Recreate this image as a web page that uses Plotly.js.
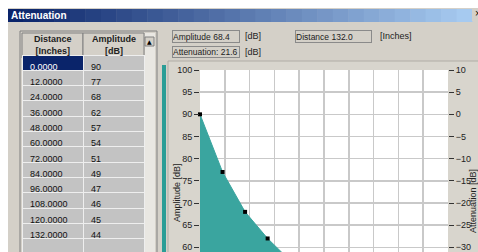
<!DOCTYPE html>
<html>
<head>
<meta charset="utf-8">
<script src="https://cdn.plot.ly/plotly-3.0.1.min.js"></script>
<style>
html,body{margin:0;padding:0;overflow:hidden;background:#fff;}
#chart{width:478px;height:340px;}
</style>
</head>
<body>
<div id="chart"></div>
<script>
// ---- data ----
const distance = [0, 12, 24, 36, 48, 60, 72, 84, 96, 108, 120, 132];
const amplitude = [90, 77, 68, 62, 57, 54, 51, 49, 47, 46, 45, 44];
const attenuation = [0, -13, -22, -28, -33, -36, -39, -41, -43, -44, -45, -46];
const headerLabels = ['Distance<br>[Inches]', 'Amplitude<br>[dB]'];
const amplitudeReadout = 'Amplitude 68.4';
const attenuationReadout = 'Attenuation: 21.6';
const distanceReadout = 'Distance 132.0';
const windowTitle = 'Attenuation';

// ---- layout helpers ----
const W = 478, H = 340;
const X = px => px / W;
const Y = py => 1 - py / H;
const FONT = 'Liberation Sans, Arial, sans-serif';
const GREY = '#d4d0c8';
const TEAL = '#3aa59f';

function rect(x0, y0, x1, y1, fill, line, lw) {
  return {type: 'rect', xref: 'paper', yref: 'paper', layer: 'below',
    x0: X(x0), x1: X(x1), y0: Y(y1), y1: Y(y0),
    fillcolor: fill, line: {color: line || 'rgba(0,0,0,0)', width: lw === undefined ? (line ? 1 : 0) : lw}};
}

const shapes = [];
shapes.push(rect(8, 8, 478, 260, GREY));
// title bar gradient
const c0 = [10, 36, 106], c1 = [166, 202, 240];
const N = 30, tx0 = 8, tx1 = 472;
for (let i = 0; i < N; i++) {
  const t = i / (N - 1);
  const c = c0.map((v, k) => Math.round(v + (c1[k] - v) * t));
  shapes.push(rect(tx0 + (tx1 - tx0) * i / N, 9, tx0 + (tx1 - tx0) * (i + 1) / N + 0.5, 22, 'rgb(' + c.join(',') + ')'));
}
shapes.push(rect(472, 9, 478, 21, GREY));
// table panel
shapes.push(rect(20, 31, 157, 262, GREY, '#808080'));
shapes.push(rect(145, 33, 155, 262, '#e9e7e2'));
shapes.push(rect(145, 37, 154, 46, GREY, '#808080'));
// table header cells
shapes.push(rect(22, 33, 83, 58, GREY, '#808080'));
shapes.push(rect(83, 33, 144, 58, GREY, '#808080'));
// teal slider bar
shapes.push(rect(162, 65, 166, 262, '#2a9d96'));
// chart panel
shapes.push(rect(168, 61, 482, 262, '#d8d5cd', '#b0ada6'));
// plot area
shapes.push(rect(200, 70, 448, 336, '#ffffff'));

function box(x0, y0, x1, y1, text) {
  return {xref: 'paper', yref: 'paper', x: X(x0), y: Y((y0 + y1) / 2), xanchor: 'left', yanchor: 'middle',
    text: text, showarrow: false, width: x1 - x0 - 2, height: y1 - y0 - 2, align: 'left',
    bgcolor: GREY, bordercolor: '#8a8a8a', borderwidth: 1, borderpad: 0,
    font: {family: FONT, size: 8.5, color: '#222'}};
}
function label(x, y, text, opts) {
  return Object.assign({xref: 'paper', yref: 'paper', x: X(x), y: Y(y), xanchor: 'left', yanchor: 'middle',
    text: text, showarrow: false, font: {family: FONT, size: 9, color: '#222'}}, opts || {});
}

const annotations = [
  label(9, 15.5, '<b>' + windowTitle + '</b>', {font: {family: FONT, size: 10, color: '#fff'}}),
  label(473, 14, '×', {font: {family: FONT, size: 10, color: '#000'}}),
  box(172, 30, 240, 43, amplitudeReadout),
  label(243, 36, '[dB]'),
  box(172, 46, 240, 58, attenuationReadout),
  label(243, 52, '[dB]'),
  box(295, 30, 372, 43, distanceReadout),
  label(378, 36, '[Inches]'),
  label(149.5, 41.5, '▲', {xanchor: 'center', font: {family: 'DejaVu Sans', size: 6, color: '#000'}}),
  label(177, 193, 'Amplitude [dB]', {xanchor: 'center', textangle: -90}),
  label(473, 201, 'Attenuation [dB]', {xanchor: 'center', textangle: -90}),
  label(52.5, 45.5, '<b>' + headerLabels[0] + '</b>', {xanchor: 'center', align: 'center'}),
  label(113.5, 45.5, '<b>' + headerLabels[1] + '</b>', {xanchor: 'center', align: 'center'})
];

// ---- table (body rows) ----
const distCells = distance.map(d => d.toFixed(4)).concat(['']);
const ampCells = amplitude.map(a => String(a)).concat(['']);
const cellFill = [distCells.map((_, i) => i === 0 ? '#0a246a' : '#c3c3c3'), ampCells.map(() => '#c3c3c3')];
const cellFont = [distCells.map((_, i) => i === 0 ? '#ffffff' : '#111'), ampCells.map(() => '#111')];

const data = [
  {type: 'scatter', x: distance, y: amplitude, mode: 'lines', fill: 'tozeroy',
    fillcolor: TEAL, line: {color: TEAL, width: 1}, hoverinfo: 'skip', showlegend: false},
  {type: 'scatter', x: distance, y: amplitude, mode: 'markers', cliponaxis: false,
    marker: {symbol: 'square', size: 4, color: '#000'}, hoverinfo: 'skip', showlegend: false},
  {type: 'scatter', x: distance, y: attenuation, yaxis: 'y2', mode: 'lines',
    line: {color: 'rgba(0,0,0,0)', width: 0}, hoverinfo: 'skip', showlegend: false},
  {type: 'table', domain: {x: [X(22), X(144)], y: [Y(262), Y(54)]}, columnwidth: [61, 61],
    header: {values: ['', ''], height: 1, fill: {color: 'rgba(0,0,0,0)'},
      line: {color: 'rgba(0,0,0,0)', width: 0}, font: {size: 1}},
    cells: {values: [distCells, ampCells], align: 'left', height: 15.3,
      fill: {color: cellFill}, line: {color: '#eeeeee', width: 1},
      font: {family: FONT, size: 9, color: cellFont}}}
];

const layout = {
  width: W, height: H, margin: {l: 0, r: 0, t: 0, b: 0},
  paper_bgcolor: '#ffffff', plot_bgcolor: '#ffffff', showlegend: false,
  font: {family: FONT, size: 9, color: '#222'},
  xaxis: {domain: [X(200), X(448)], range: [0, 132], tick0: 0, dtick: 13.2,
    showgrid: true, gridcolor: '#c9c9c9', gridwidth: 1.5, showticklabels: false, ticks: '',
    zeroline: false, showline: false, fixedrange: true},
  yaxis: {domain: [Y(336), Y(70)], range: [40, 100], tick0: 0, dtick: 5,
    showgrid: true, gridcolor: '#c9c9c9', gridwidth: 1.5, ticks: 'outside', ticklen: 5,
    tickcolor: '#333', tickwidth: 1, tickfont: {family: FONT, size: 9, color: '#222'},
    zeroline: false, showline: false, fixedrange: true},
  yaxis2: {overlaying: 'y', side: 'right', anchor: 'x', range: [-50, 10], tick0: 0, dtick: 5,
    showgrid: false, ticks: 'outside', ticklen: 5, tickcolor: '#333', tickwidth: 1,
    tickfont: {family: FONT, size: 9, color: '#222'}, zeroline: false, showline: false, fixedrange: true},
  shapes: shapes,
  annotations: annotations
};

Plotly.newPlot('chart', data, layout, {displayModeBar: false, staticPlot: true});
</script>
</body>
</html>
